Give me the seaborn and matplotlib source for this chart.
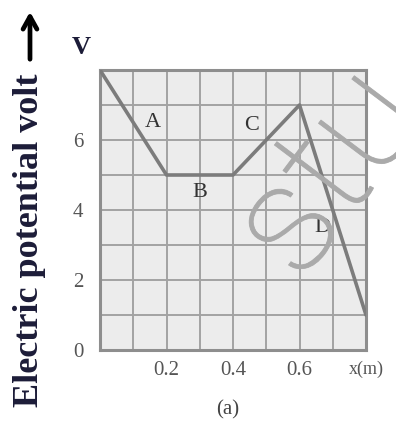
import matplotlib
matplotlib.use("Agg")
import matplotlib.pyplot as plt
import matplotlib.patheffects as pe
import seaborn as sns
import pandas as pd

# Potential along x, piecewise linear segments A-D
x_m = [0.0, 0.2, 0.4, 0.6, 0.8]
potential_v = [8, 5, 5, 7, 1]

segment_names = ["A", "B", "C", "D"]
segment_label_x = [0.16, 0.30, 0.455, 0.67]
segment_label_y = [6.5, 4.5, 6.4, 3.5]

y_ticks = [0, 2, 4, 6]
x_ticks = [0.2, 0.4, 0.6, 0.8]
x_tick_labels = ["0.2", "0.4", "0.6", "x(m)"]

sns.set_style("white")
plt.rcParams["font.family"] = ["Liberation Serif", "DejaVu Serif"]

fig = plt.figure(figsize=(3.96, 4.26), dpi=100)
ax = fig.add_axes([100 / 396, 1 - 350 / 426, 266 / 396, 280 / 426])
ax.set_facecolor("#ececec")

df = pd.DataFrame({"x": x_m, "V": potential_v})
sns.lineplot(data=df, x="x", y="V", ax=ax, color="#7c7c7c", linewidth=2.6,
             zorder=3)

ax.set_xlim(0, 0.8)
ax.set_ylim(0, 8)
ax.set_yticks(y_ticks)
ax.set_yticklabels([str(t) for t in y_ticks], fontsize=15, color="#555555")
ax.set_xticks(x_ticks)
ax.set_xticklabels(x_tick_labels, color="#555555")
for lbl, fs in zip(ax.get_xticklabels(), [15, 15, 15, 13]):
    lbl.set_fontsize(fs)
ax.set_xticks([i / 10 for i in range(9)], minor=True)
ax.set_yticks(range(9), minor=True)
ax.grid(which="both", color="#a2a2a2", linewidth=1.4)
ax.set_axisbelow(True)
ax.tick_params(which="both", length=0)
ax.tick_params(axis="y", pad=12)
ax.tick_params(axis="x", pad=8)
ax.set_xlabel("")
ax.set_ylabel("")

for s in ax.spines.values():
    s.set_color("#8e8e8e")
    s.set_linewidth(2.2)

for name, lx, ly in zip(segment_names, segment_label_x, segment_label_y):
    ax.text(lx, ly, name, fontsize=16, color="#333333", ha="center",
            va="center", zorder=4)

# Axis title and unit
fig.text(30 / 396, 1 - 240 / 426, "Electric potential volt", rotation=90,
         fontsize=26, fontweight="bold", color="#1c1c38", ha="center",
         va="center")
fig.text(81 / 396, 1 - 47 / 426, "V", fontsize=19, fontweight="bold",
         color="#1c1c38", ha="center", va="center")
ax.annotate("", xy=(30 / 396, 1 - 9 / 426), xytext=(30 / 396, 1 - 62 / 426),
            xycoords="figure fraction", textcoords="figure fraction",
            arrowprops=dict(arrowstyle="->,head_length=0.9,head_width=0.5",
                            color="black", linewidth=3.4))

fig.text(228 / 396, 1 - 410 / 426, "(a)", fontsize=15, color="#444444",
         ha="center", va="center")

# Watermark
fig.text(330 / 396, 1 - 174 / 426, "stu", fontsize=112, rotation=53,
         color="#aaaaaa", family=["Roboto", "DejaVu Sans"], fontweight=100,
         ha="center", va="center", alpha=0.9, zorder=10,
         path_effects=[pe.withStroke(linewidth=0.6, foreground="#aaaaaa")])

fig.savefig("out.png", dpi=100)
